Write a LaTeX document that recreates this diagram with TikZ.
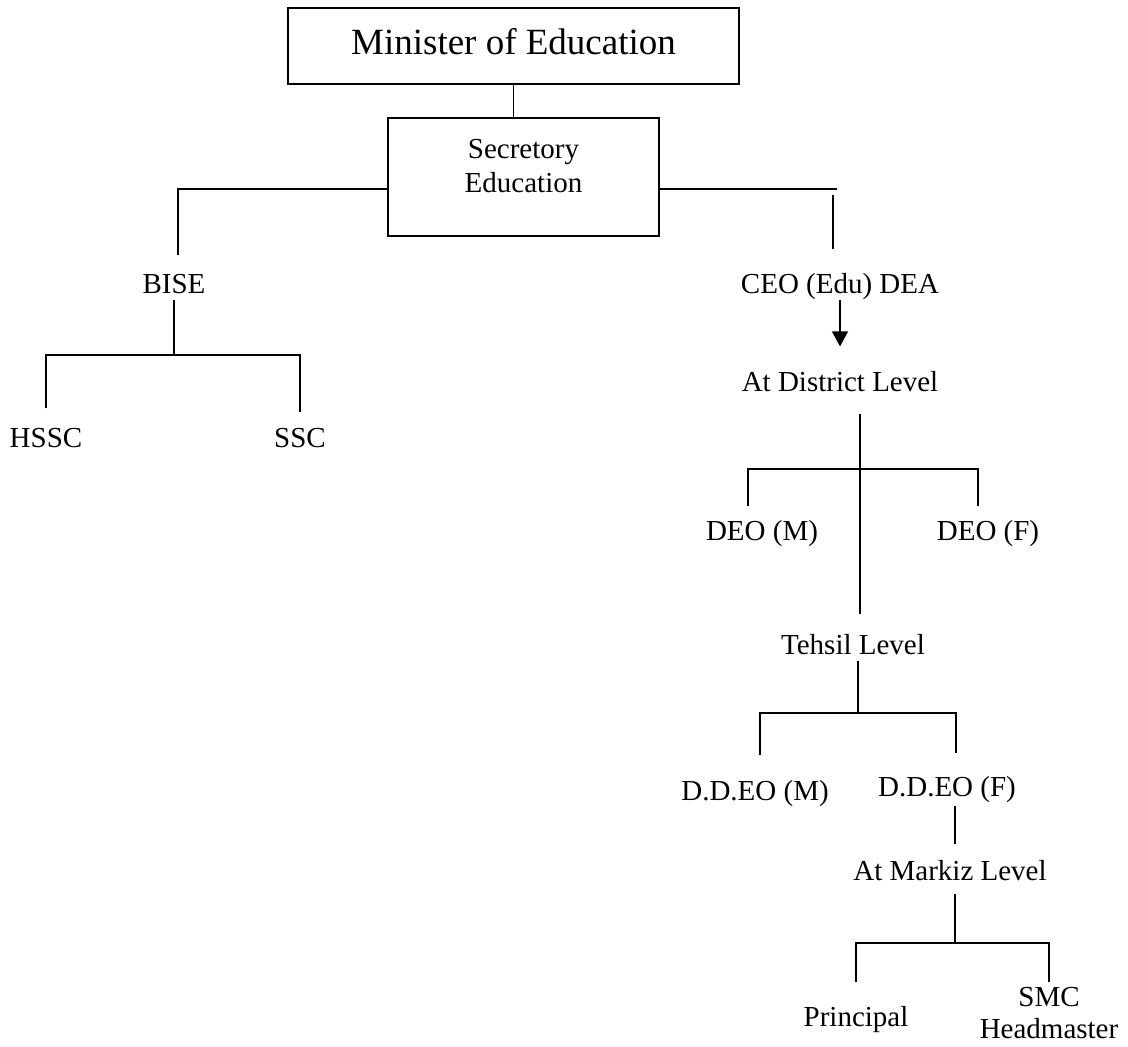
\documentclass[tikz,border=0pt]{standalone}
\usepackage{fontspec}
\setmainfont{Liberation Serif}
\usepackage{tikz}
\usetikzlibrary{arrows.meta}
\tikzstyle{officetext}=[inner sep=0pt, font=\fontsize{14.5}{16}\selectfont]
\tikzstyle{office}=[officetext, anchor=base, text height=10pt, text depth=3pt]
\tikzstyle{officebox}=[draw, line width=1pt, inner sep=0pt, align=center]
\providecommand{\office}{\node[office]}

\begin{document}
\begin{tikzpicture}[x=0.5pt, y=-0.5pt, line width=0.6pt]
\useasboundingbox (0,0) rectangle (1128,1046);
% boxes at the top
\node[officebox, minimum width=225.5pt, minimum height=38pt, font=\fontsize{18.5}{22}\selectfont, text depth=4.5pt] (minister) at (513.5,46) {Minister of Education};
\node[officebox, minimum width=135.5pt, minimum height=59pt, font=\fontsize{14.5}{17}\selectfont, text depth=11pt] (secretory) at (523.5,177) {Secretory\\Education};
% offices
\office (bise) at (174,293) {BISE};
\office (hssc) at (46,447) {HSSC};
\office (ssc) at (300,447) {SSC};
\office (ceo) at (840,293) {CEO (Edu) DEA};
\office (dist) at (840,391) {At District Level};
\office (deom) at (762,540) {DEO (M)};
\office (deof) at (988,540) {DEO (F)};
\office (tehsil) at (853,654) {Tehsil Level};
\office (ddeom) at (755,800) {D.D.EO (M)};
\office (ddeof) at (947,796) {D.D.EO (F)};
\office (markiz) at (950,880) {At Markiz Level};
\office (principal) at (856,1026) {Principal};
\node[officetext, align=center, anchor=north] (smc) at (1049,987) {SMC\\Headmaster};
% joints
\coordinate (bisetop) at (178,255);
\coordinate (bisejoin) at (174,355);
\coordinate (ceoend) at (837,189);
\coordinate (ceotop) at (833,195);
\coordinate (distjoin) at (860,469);
\coordinate (deoL) at (748,469);
\coordinate (deoR) at (978,469);
\coordinate (tehjoin) at (858,713);
\coordinate (ddL) at (760,713);
\coordinate (ddR) at (956,713);
\coordinate (mkjoin) at (955,943);
% lines
\draw (minister.south) -- (minister.south |- secretory.north);
\draw ([yshift=-6pt]secretory.west) -| (bisetop);
\draw ([yshift=-6pt]secretory.east) -- (ceoend);
\draw[shorten >=11.5pt] (ceotop) -- (ceotop |- ceo.north);
\draw (bise) -- (bisejoin);
\draw[shorten <=9pt, shorten >=7pt] (hssc.north) |- (bisejoin) -| (ssc.north);
\draw[-{Triangle[length=7.5pt,width=8pt]}, shorten >=12pt] (ceo) -- (dist.north);
\draw[shorten <=8pt, shorten >=9.5pt] (dist.south -| distjoin) -- (tehsil.north -| distjoin);
\draw[shorten <=6.5pt, shorten >=6.5pt] (deom.north -| deoL) -- (deoL) -- (deoR) -- (deof.north -| deoR);
\draw (tehsil.south -| tehjoin) -- (tehjoin);
\draw[shorten <=12pt, shorten >=11pt] (ddeom.north -| ddL) -- (ddL) -- (ddR) -- (ddeof.north -| ddR);
\draw[shorten <=1.5pt, shorten >=7.5pt] (ddeof.south -| mkjoin) -- (markiz.north -| mkjoin);
\draw[shorten <=3.5pt] (markiz.south -| mkjoin) -- (mkjoin);
\draw[shorten <=11.5pt, shorten >=2.5pt] (principal.north) |- (mkjoin) -| (smc.north);
\end{tikzpicture}
\end{document}
